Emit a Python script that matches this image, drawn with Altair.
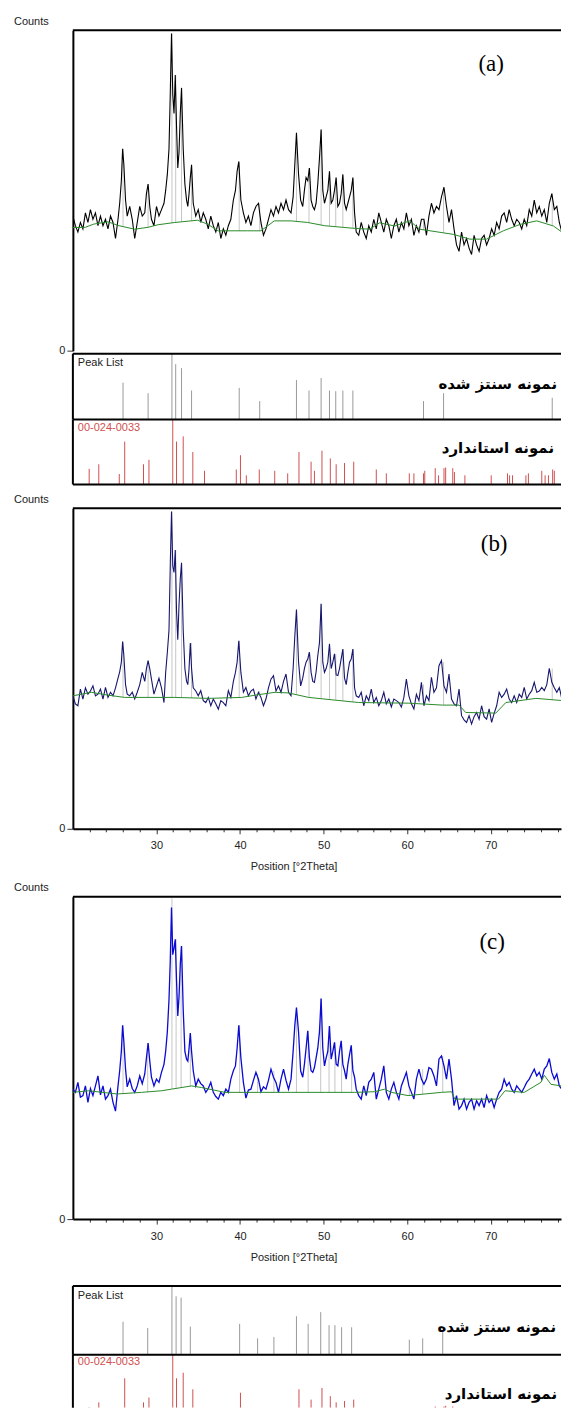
import altair as alt
import pandas as pd

# ---------------- data ----------------
theta = [
    20.0, 20.3, 20.6, 20.9, 21.2, 21.5, 21.8, 22.1, 22.4, 22.7, 23.0, 23.3, 23.6, 23.9, 24.2, 24.5, 24.8, 25.1, 25.4,
    25.6, 25.8, 25.95, 26.1, 26.3, 26.5,
    26.8, 27.1, 27.4, 27.7, 28.0, 28.3,
    28.6, 28.8, 29.0, 29.2, 29.4,
    29.7, 30.0, 30.3, 30.6,
    30.9, 31.1, 31.3, 31.5, 31.65, 31.8, 31.95, 32.1, 32.25, 32.4, 32.55, 32.7, 32.85, 33.0, 33.2, 33.4, 33.6,
    33.75, 33.9, 34.05, 34.2, 34.4,
    34.7, 35.0, 35.3, 35.6, 35.9, 36.2, 36.5, 36.8, 37.1, 37.4, 37.7, 38.0, 38.3, 38.6, 38.9, 39.2,
    39.45, 39.65, 39.85, 40.1,
    40.4, 40.7, 41.0, 41.3, 41.6, 41.9, 42.2, 42.5, 42.8, 43.1, 43.4, 43.7, 44.0, 44.3, 44.6, 44.9, 45.2, 45.5,
    45.8, 46.1,
    46.35, 46.55, 46.75, 47.0, 47.25, 47.5, 47.7, 47.9, 48.1, 48.3, 48.5, 48.7, 48.9, 49.1, 49.3, 49.5, 49.7,
    49.9, 50.1, 50.3, 50.5, 50.7, 50.9, 51.1, 51.3, 51.5, 51.7, 51.9, 52.1, 52.3, 52.5, 52.7, 52.9, 53.1, 53.3,
    53.5, 53.7, 53.9,
    54.2, 54.5, 54.8, 55.1, 55.4, 55.7, 56.0, 56.3, 56.6, 56.9, 57.2, 57.5, 57.8, 58.1, 58.4, 58.7, 59.0, 59.3,
    59.6, 59.9, 60.2, 60.5, 60.8, 61.1, 61.4, 61.7, 62.0, 62.3, 62.6, 62.9, 63.2, 63.5, 63.8, 64.1, 64.4, 64.7,
    65.0, 65.3, 65.6, 65.9, 66.2, 66.5, 66.8, 67.1, 67.4, 67.7, 68.0, 68.3, 68.6, 68.9, 69.2, 69.5, 69.8, 70.1,
    70.4, 70.7, 71.0, 71.3, 71.6, 71.9, 72.2, 72.5, 72.8, 73.1, 73.4, 73.7, 74.0, 74.3, 74.6, 74.9, 75.2, 75.5,
    75.8, 76.1, 76.4, 76.7, 77.0, 77.3, 77.6, 77.9, 78.2, 78.5, 78.8, 79.1, 79.4,
]

counts_a = [
    42, 39, 37, 40, 38, 43, 40, 44, 41, 43, 39, 42, 39, 41, 38, 42, 40, 35, 41,
    46, 53, 63, 58, 47, 42,
    45, 41, 35, 40, 45, 42,
    43, 49, 52, 45, 41,
    39, 45, 42, 44,
    46, 50, 55, 63, 80, 99, 80, 74, 86, 70, 57, 62, 74, 82, 63, 52, 47, 45, 49, 54, 58, 46,
    42, 44, 40, 43, 41, 38, 42, 39, 37, 40, 35, 38, 36, 39, 41, 47,
    50, 56, 59, 47,
    43, 40, 42, 39, 43, 45, 46, 40, 36, 38, 41, 44, 42, 45, 43, 46, 44, 47, 44, 43,
    48, 58, 68, 55, 47, 45, 50, 54, 53, 57, 47, 45, 44, 46, 52, 60, 69, 50, 46, 48, 50, 56, 46, 47, 50, 54,
    45, 46, 49, 55, 46, 44, 46, 48, 50, 54, 43, 37,
    36, 40, 37, 35, 39, 37, 41, 38, 43, 40, 37, 41, 39, 35, 39, 41, 37, 40, 38, 43,
    39, 41, 36, 39, 37, 41, 41, 36, 42, 46, 43, 45, 44, 48, 51, 45, 40, 44, 38, 33,
    31, 37, 33, 35, 32, 30, 36, 33, 31, 35, 36, 33, 35, 38, 36, 40, 38, 42, 43, 40,
    44, 41, 39, 41, 40, 38, 41, 39, 44, 42, 47, 43, 45, 42, 44, 40, 46, 49, 44, 45,
    40, 37, 36, 33, 35,
]

counts_b = [
    41.5, 39, 38.4, 43.6, 40.5, 44, 42, 43, 44.6, 41.5, 42, 43.6, 40.5, 44.1, 41, 42.6, 41.5, 44, 47,
    49, 52, 58.4, 54, 45, 42,
    41.5, 42.6, 40.5, 42.6, 45, 48.8,
    46, 50, 52.5, 49.9, 46.7,
    42, 44.5, 47, 44,
    39.4, 48.8, 55, 62, 82, 99, 82, 80, 87, 68, 59, 70, 78, 83, 62, 50, 46, 45, 50, 58, 50, 44,
    43, 41.5, 43.1, 40, 39.4, 41, 38.4, 40.5, 39, 37.3, 40, 39.4, 38.4, 43.1, 41, 46,
    48.8, 52, 58.7, 48.8,
    42.6, 44.1, 41.5, 43, 43.6, 40.5, 42.6, 41, 38.4, 40.5, 44, 46.7, 47.8, 43, 44.6, 42.6, 46, 48.3, 42.6, 41.5,
    50, 60, 68.4, 52, 44.6, 47, 50, 52, 53, 55.1, 48.8, 46, 45.7, 49, 54, 58, 70.2, 52, 48.8, 50, 52, 57.7,
    50, 52, 54.6, 48, 47.8, 50, 53, 56.1, 47, 45, 48.8, 52, 53, 56.1, 44, 41.5,
    41, 42.6, 38.4, 41.5, 40, 43.6, 39.4, 41, 38.4, 40, 42.6, 39, 40.5, 38, 40.5, 40, 39.4, 38, 41, 46.7,
    41.5, 39, 37.4, 42, 40, 45.7, 38.4, 41.5, 40, 47.3, 42.6, 44, 50.9, 52.5, 44.6, 42.6, 48.3, 40.5, 39, 38.4,
    43.6, 35.3, 34, 33.2, 35.3, 32.7, 35, 36.3, 34.2, 38.4, 35, 34.2, 37.4, 33.2, 36, 38.4, 42.6, 41, 42, 43.6,
    40.5, 39.4, 41.5, 39.4, 42, 41, 44.1, 40.5, 42, 43.1, 45.7, 42.6, 43, 44.1, 43.1, 45, 50.1, 45.7, 44, 42.6,
    44.1, 40.5, 39, 36.3, 38.4,
]

counts_c = [
    40.3, 39.3, 42.4, 37.8, 38.3, 41.3, 36.2, 40.5, 38.3, 41.3, 44.4, 38.5, 41.3, 37.2, 38.3, 40.3, 36.2, 33.5, 41.3,
    46, 52, 60.1, 55, 46.5, 41,
    43.4, 40.5, 39.3, 41.3, 44.4, 42,
    45, 50, 54.6, 49, 44,
    41.3, 43.4, 42.4, 45.5,
    48, 52, 58, 68, 80, 96.6, 82, 84, 86.8, 74, 63, 69, 79, 84.7, 65, 52, 49.6, 49, 53, 57.7, 52, 46,
    41.3, 43.4, 42, 41.3, 39.3, 40.5, 42.4, 39.3, 38, 37.2, 39.3, 38.3, 40.3, 39.3, 43.4, 46,
    47.5, 53, 60.1, 50,
    42.4, 37.5, 40, 40.3, 43, 45.5, 43.4, 39.5, 41, 40.3, 43, 46.5, 44, 42.4, 39.3, 43.4, 46.5, 43, 40.3, 43.4,
    52, 60, 65.6, 58, 46, 44, 48, 53, 58.4, 50, 46, 45.5, 47, 50, 53, 58, 68.4, 53, 47.5, 50, 52, 59.9,
    49.6, 52, 54.8, 48, 47.5, 52, 55.3, 48, 46, 43.4, 48, 51, 53.9, 46, 44, 40.3,
    38.3, 37.2, 41.3, 38.3, 42.4, 43.4, 45.5, 37.2, 40.3, 43.4, 47.5, 39.3, 37.2, 40.3, 42.4, 39.3, 37.2, 41.3, 43.4, 45.5,
    41.3, 39.3, 37.2, 43.4, 46.5, 43.4, 41.8, 43.4, 47, 46.5, 44.4, 41.3, 49.6, 50.6, 47.5, 43.4, 49.6, 43.4, 35.2, 38.3,
    34.1, 35.2, 37.2, 34.1, 36.2, 37.2, 34.1, 36.7, 35.2, 37.2, 34.6, 38.3, 36.2, 37.2, 34.6, 37.2, 39.3, 40.3, 43.4, 41.3,
    42.4, 40.3, 39.3, 41.3, 40.3, 39.3, 40.8, 42.4, 43.4, 45, 46.5, 44.4, 45.5, 43.4, 46.5, 47.5, 49.8, 45.5, 43.4, 45,
    41.3, 40.3, 37.2, 34.1, 37.2,
]

# green background curves
bg_a_theta = [20.0, 21.5, 22.5, 24.2, 25.5, 27.4, 29.0, 30.2, 32.2, 34.9, 36.1, 37.4, 40.9, 42.5, 44.1, 46.1,
              48.1, 50.1, 53.5, 55.5, 56.7, 58.5, 60.3, 61.5, 65.5, 67.5, 69.5, 71.5, 73.5, 75.5, 77.5, 79.4]
bg_a_counts = [38.4, 38.5, 39.5, 40.2, 39.0, 37.9, 38.5, 39.3, 40.0, 40.7, 39.5, 37.4, 37.4, 37.4, 40.5, 40.5,
               40.0, 39.0, 38.2, 37.9, 39.9, 38.9, 40.5, 37.9, 36.3, 34.8, 34.8, 37.4, 39.4, 40.5, 38.9, 35.3]
bg_b_theta = [20.0, 22.2, 24.2, 26.2, 32.2, 36.2, 40.2, 41.8, 44.2, 45.8, 48.2, 54.2, 60.2, 64.2, 66.2, 67.0,
              70.6, 71.8, 75.4, 78.6, 79.4]
bg_b_counts = [41.5, 42.6, 41.7, 41.0, 41.0, 40.7, 41.0, 41.7, 42.6, 42.4, 41.0, 39.4, 39.2, 38.6, 38.6, 36.3,
               36.1, 39.4, 40.7, 40.0, 37.9]
bg_c_theta = [20.0, 21.9, 23.5, 25.3, 28.2, 30.6, 31.8, 34.2, 35.4, 38.2, 42.2, 46.2, 50.2, 53.7, 56.1, 57.3,
              58.1, 60.1, 64.1, 65.3, 65.7, 70.9, 71.7, 74.0, 76.0, 76.4, 77.2, 78.4, 79.4]
bg_c_counts = [39.3, 39.8, 39.3, 38.8, 39.3, 39.8, 40.3, 41.3, 40.8, 39.3, 39.3, 39.3, 39.3, 39.3, 39.5, 40.3,
               39.3, 38.3, 39.3, 39.5, 37.2, 37.2, 39.8, 39.3, 42.4, 44.6, 41.8, 41.3, 37.2]

# peak list (sample a / b)
pk_a_pos = [26.0, 29.0, 31.85, 32.3, 33.0, 34.2, 39.9, 42.35, 46.75, 48.25, 49.7, 50.7, 51.45, 52.3, 53.5,
            61.95, 64.35, 77.35]
pk_a_rel = [0.56, 0.40, 1.0, 0.84, 0.78, 0.44, 0.48, 0.28, 0.60, 0.44, 0.63, 0.44, 0.43, 0.44, 0.44, 0.28, 0.40, 0.33]
pk_a_base = [38.8, 38.5, 39.9, 40.0, 40.2, 40.5, 37.4, 37.4, 40.3, 39.9, 39.2, 38.9, 38.6, 38.5, 38.2, 37.7, 36.8, 39.0]
pk_a_top = [63, 52, 99, 86, 82, 58, 59, 46, 68, 57, 69, 56, 54, 55, 54, 41, 51, 49]
pk_b_base = [41.0, 41.0, 41.0, 41.0, 41.0, 40.9, 41.0, 41.9, 42.0, 41.0, 40.7, 40.5, 40.3, 40.0, 39.6, 39.0, 38.6, 40.2]
pk_b_top = [58.4, 52.5, 99, 87, 83, 58, 58.7, 43, 68.4, 55.1, 70.2, 57.7, 54.6, 56.1, 56.1, 45, 52, 50]

# peak list (sample c, bottom strip)
pk_c_pos = [26.0, 28.95, 31.85, 32.35, 32.95, 34.05, 39.95, 42.1, 44.05, 46.75, 48.15, 49.65, 50.65, 51.35,
            52.15, 53.35, 60.25, 61.85, 64.25]
pk_c_rel = [0.48, 0.39, 1.0, 0.85, 0.83, 0.41, 0.45, 0.24, 0.26, 0.56, 0.45, 0.62, 0.43, 0.43, 0.40, 0.40,
            0.22, 0.24, 0.33]
pk_c_base = [38.9, 39.3, 40.3, 40.5, 40.7, 41.2, 39.3, 39.3, 39.3, 39.3, 39.3, 39.3, 39.3, 39.3, 39.3, 39.3,
             38.4, 38.8, 39.3]
pk_c_top = [60.1, 54.6, 99.5, 86.8, 84.7, 57.7, 60.1, 45, 46, 65.6, 58.4, 68.4, 59.9, 54.8, 55.3, 53.9, 41.3,
            46.5, 50.6]

# reference card 00-024-0033
std_pos = [21.95, 23.1, 25.55, 26.2, 28.45, 29.1, 31.95, 32.4, 33.2, 34.35, 35.75, 39.55, 40.05, 40.75, 42.3,
           44.15, 45.7, 47.05, 48.5, 48.9, 49.8, 50.8, 51.5, 52.5, 53.6, 56.3, 57.5, 60.25, 60.8, 61.95, 62.1,
           63.35, 63.75, 64.4, 64.6, 65.45, 65.65, 66.9, 70.05, 72.0, 72.25, 72.6, 74.2, 74.5, 76.1, 76.5, 76.9,
           77.4, 77.6, 78.7]
std_rel = [0.24, 0.31, 0.16, 0.66, 0.31, 0.38, 1.0, 0.66, 0.74, 0.50, 0.21, 0.23, 0.45, 0.14, 0.23, 0.21, 0.17,
           0.50, 0.35, 0.21, 0.52, 0.40, 0.31, 0.33, 0.35, 0.23, 0.17, 0.17, 0.17, 0.17, 0.21, 0.25, 0.14, 0.25,
           0.26, 0.25, 0.19, 0.14, 0.14, 0.17, 0.14, 0.14, 0.14, 0.17, 0.21, 0.14, 0.14, 0.23, 0.21, 0.21]

x_tick_values = [22, 24, 26, 28, 30, 32, 34, 36, 38, 40, 42, 44, 46, 48, 50, 52, 54, 56, 58, 60, 62, 64, 66,
                 68, 70, 72, 74, 76, 78]

# ---------------- styling ----------------
W = 489                       # plot width (page is 554 px wide inside its margins)
XDOM = [20, 78.4]
FONT = "Liberation Sans Narrow, Arial Narrow, Liberation Sans, Arial, sans-serif"
FA_FONT = "DejaVu Sans"
ONE = pd.DataFrame({"v": [0]})


def xs():
    return alt.Scale(domain=XDOM, nice=False, zero=False)


def ys():
    return alt.Scale(domain=[0, 100], nice=False, zero=False)


def hrule(y, width=2, color="black"):
    return alt.Chart(ONE).mark_rule(color=color, strokeWidth=width).encode(
        x=alt.value(0), x2=alt.value(W), y=alt.value(y))


def vrule(h, width=2):
    return alt.Chart(ONE).mark_rule(color="black", strokeWidth=width).encode(
        x=alt.value(0), y=alt.value(0), y2=alt.value(h))


def txt(text, x, y, font=FONT, size=11, color="#222222", align="left", weight="normal"):
    return alt.Chart(ONE).mark_text(text=text, font=font, fontSize=size, color=color, align=align,
                                    baseline="middle", fontWeight=weight).encode(
        x=alt.value(x), y=alt.value(y))


def make_axes(show_x):
    yaxis = alt.Axis(values=[0], title=None, grid=False, domainColor="black", domainWidth=2,
                     tickColor="#333333", tickSize=6, tickWidth=1, labelFont=FONT, labelFontSize=11,
                     labelColor="#222222", labelPadding=2, labelFlush=False)
    if not show_x:
        return None, yaxis
    xaxis = alt.Axis(values=x_tick_values, grid=False, domainColor="black", domainWidth=2,
                     tickColor="#333333", tickWidth=1,
                     tickSize={"condition": {"test": "datum.value % 10 === 0", "value": 5}, "value": 3},
                     labelExpr="datum.value % 10 === 0 ? datum.label : ''",
                     labelFont=FONT, labelFontSize=11, labelColor="#222222", labelPadding=6,
                     labelFlush=False, labelOverlap=False,
                     title="Position [°2Theta]", titleFont=FONT, titleFontSize=11,
                     titleFontWeight="normal", titleColor="#222222", titleX=221, titlePadding=10)
    return xaxis, yaxis


def pattern_panel(counts, color, lw, bg_t, bg_v, mk_pos, mk_base, mk_top, tag, tag_x, tag_y, counts_y, h,
                  show_x, anchor=False):
    line_df = pd.DataFrame({"theta": theta, "counts": counts})
    bg_df = pd.DataFrame({"theta": bg_t, "counts": bg_v})
    mk_df = pd.DataFrame({"pos": mk_pos, "base": mk_base, "top": mk_top})
    xaxis, yaxis = make_axes(show_x)
    markers = alt.Chart(mk_df).mark_rule(color="#c6c6c6", strokeWidth=1, clip=True).encode(
        x=alt.X("pos:Q", scale=xs(), axis=xaxis),
        y=alt.Y("top:Q", scale=ys(), axis=yaxis), y2="base:Q")
    line = alt.Chart(line_df).mark_line(color=color, strokeWidth=lw, clip=True).encode(
        x=alt.X("theta:Q", scale=xs(), axis=xaxis),
        y=alt.Y("counts:Q", scale=ys(), axis=yaxis))
    bg = alt.Chart(bg_df).mark_line(color="#2a8a2a", strokeWidth=1, clip=True).encode(
        x=alt.X("theta:Q", scale=xs(), axis=xaxis),
        y=alt.Y("counts:Q", scale=ys(), axis=yaxis))
    layers = [markers, line, bg, hrule(0),
              txt(tag, tag_x, tag_y, font="Liberation Serif", size=23, color="black", align="center"),
              txt("Counts", -59, counts_y, size=11)]
    if anchor:
        layers.append(alt.Chart(ONE).mark_rect(opacity=0).encode(
            x=alt.value(-65), x2=alt.value(-64), y=alt.value(-21), y2=alt.value(-20)))
    return alt.layer(*layers).properties(width=W, height=h)


def strip(pos, rel, color, label, label_color, label_y, fa_text, fa_x, fa_y, h, ydom, bottom):
    df = pd.DataFrame({"pos": pos, "rel": rel})
    sticks = alt.Chart(df).mark_rule(color=color, strokeWidth=1, clip=True).encode(
        x=alt.X("pos:Q", scale=xs(), axis=None),
        y=alt.Y("rel:Q", scale=alt.Scale(domain=ydom, nice=False, zero=False, clamp=True), axis=None),
        y2=alt.value(h))
    layers = [sticks, hrule(0), vrule(h),
              txt(label, 5, label_y, color=label_color),
              txt(fa_text, fa_x, fa_y, font=FA_FONT, size=15, color="black", align="right", weight="bold")]
    if bottom:
        layers.append(hrule(h))
    return alt.layer(*layers).properties(width=W, height=h)


def spacer(h):
    return alt.Chart(ONE).mark_rect(opacity=0).encode(
        x=alt.value(0), x2=alt.value(1), y=alt.value(0), y2=alt.value(1)).properties(width=W, height=h)


panel_a = pattern_panel(counts_a, "#000000", 1.1, bg_a_theta, bg_a_counts, pk_a_pos, pk_a_base, pk_a_top,
                        "(a)", 419, 34, -8.5, 321, False, anchor=True)
panel_b = pattern_panel(counts_b, "#16166e", 1.1, bg_b_theta, bg_b_counts, pk_a_pos, pk_b_base, pk_b_top,
                        "(b)", 422, 36, -8, 321, True)
panel_c = pattern_panel(counts_c, "#0a0ad2", 1.3, bg_c_theta, bg_c_counts, pk_c_pos, pk_c_base, pk_c_top,
                        "(c)", 420, 45, -9, 323, True)

pl_a = strip(pk_a_pos, pk_a_rel, "#9a9a9a", "Peak List", "#222222", 9, "نمونه سنتز شده", 485, 30, 66,
             [0, 1], False)
std_a = strip(std_pos, std_rel, "#d05050", "00-024-0033", "#d05050", 8, "نمونه استاندارد", 482, 29, 65,
              [0, 1], True)
pl_c = strip(pk_c_pos, pk_c_rel, "#9a9a9a", "Peak List", "#222222", 10.5, "نمونه سنتز شده", 484, 41, 69,
             [0, 1], False)
std_c = strip(std_pos, std_rel, "#d05050", "00-024-0033", "#d05050", 7, "نمونه استاندارد", 485, 39, 53,
              [0.232, 1], False)

chart = alt.vconcat(
    panel_a, spacer(3), pl_a, std_a, spacer(24), panel_b, spacer(68), panel_c, spacer(67), pl_c, std_c,
    spacing=0, bounds="flush",
).properties(padding=0).configure_view(strokeWidth=0)

chart.save("out.html", embed_options={"renderer": "svg", "actions": False})
